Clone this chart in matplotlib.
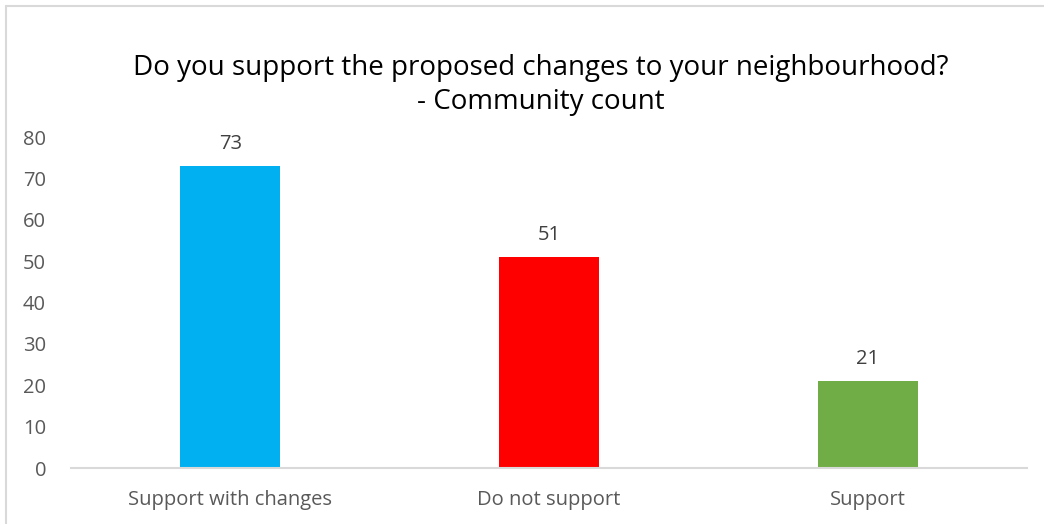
import matplotlib.pyplot as plt
from matplotlib.patches import Rectangle

categories = ['Support with changes', 'Do not support', 'Support']
counts = [73, 51, 21]
colors = ['#00B0F0', '#FF0000', '#70AD47']

plt.rcParams['font.family'] = ['Open Sans', 'DejaVu Sans']
grey = '#595959'

fig = plt.figure(figsize=(10.44, 5.24), dpi=100)
fig.patches.append(Rectangle((6 / 1044, -0.1), 1.2, 1 - 6 / 524 + 0.1,
                             transform=fig.transFigure, fill=False,
                             edgecolor='#D9D9D9', linewidth=1.5))

ax = fig.add_axes([71 / 1044, 1 - 468 / 524, 956 / 1044, (468 - 137) / 524])
x = range(len(categories))
bars = ax.bar(x, counts, width=0.314, color=colors)
for b, v in zip(bars, counts):
    ax.text(b.get_x() + b.get_width() / 2, v + 3, str(v), ha='center', va='bottom',
            fontsize=14.5, color='#404040')

ax.set_xlim(-0.5, 2.5)
ax.set_ylim(0, 80)
ax.set_yticks(range(0, 81, 10))
ax.set_xticks(list(x))
ax.set_xticklabels(categories)
ax.tick_params(axis='both', length=0, labelsize=14.5, labelcolor=grey)
ax.tick_params(axis='y', pad=18)
ax.tick_params(axis='x', pad=16)
for s in ['top', 'right', 'left']:
    ax.spines[s].set_visible(False)
ax.spines['bottom'].set_color('#D9D9D9')
ax.spines['bottom'].set_linewidth(1.5)

fig.text(541 / 1044, 1 - 85 / 524, 'Do you support the proposed changes to your neighbourhood?\n- Community count',
         ha='center', va='center', fontsize=20, color='black', linespacing=1.3)

fig.savefig('out.png', dpi=100)
